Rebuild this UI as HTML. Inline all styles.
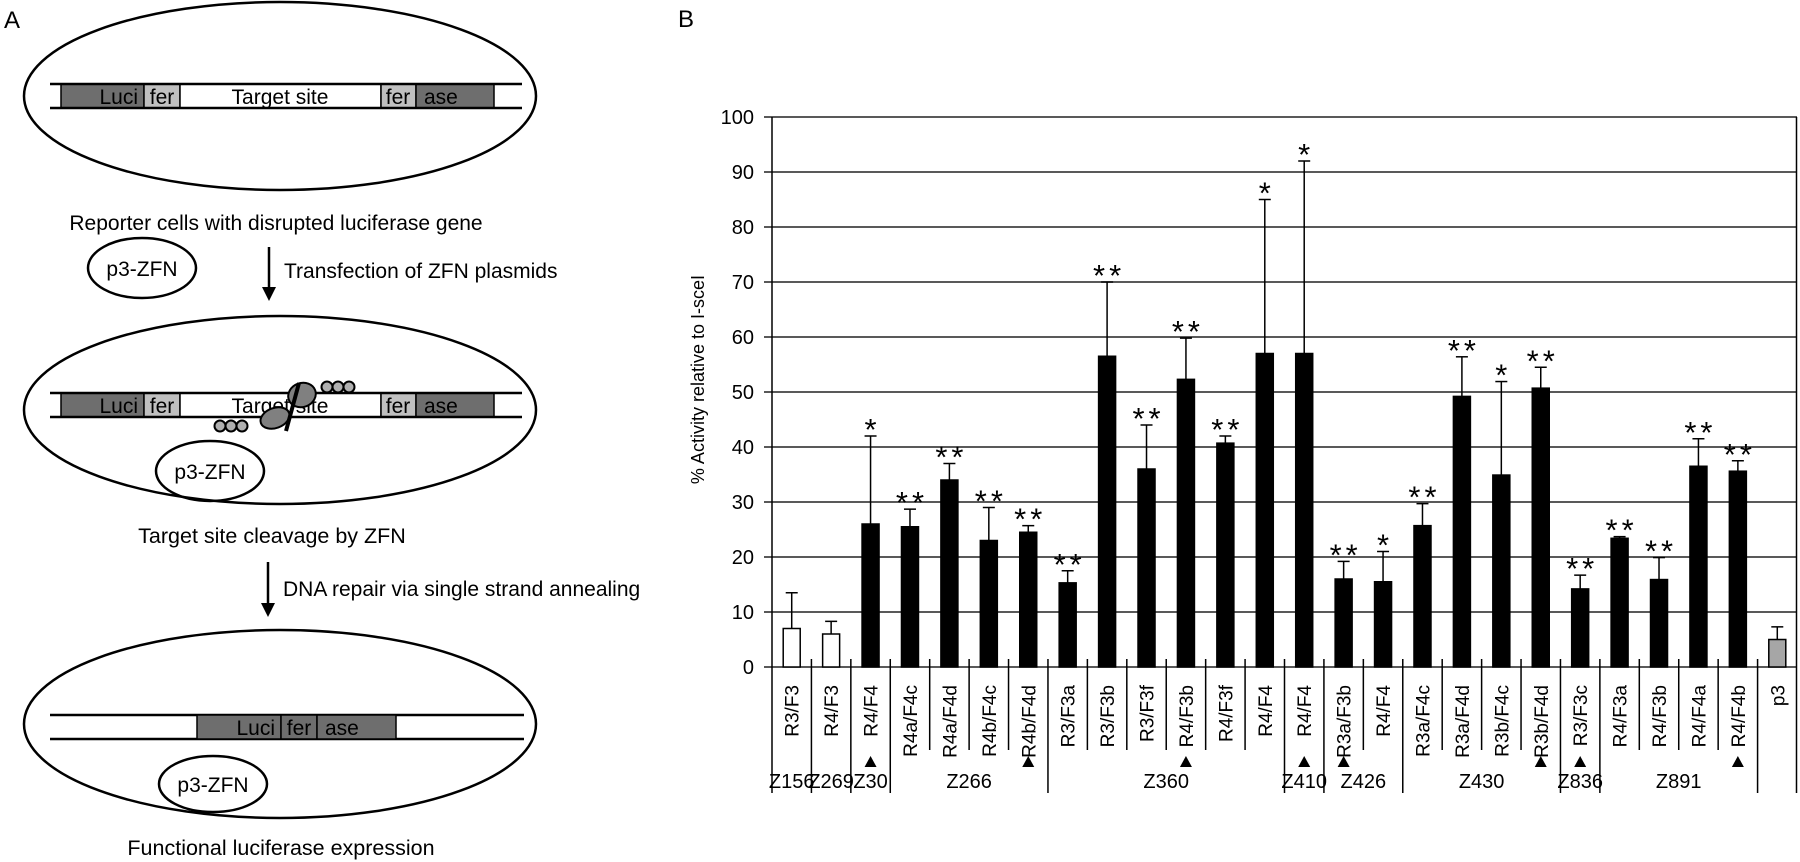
<!DOCTYPE html>
<html><head><meta charset="utf-8"><style>
html,body{margin:0;padding:0;background:#fff;}
svg{display:block;font-family:"Liberation Sans",Arial,sans-serif;}
</style></head><body>
<svg id="fig" width="1800" height="862" viewBox="0 0 1800 862" xmlns="http://www.w3.org/2000/svg">
<g id="panelA" stroke="#000" stroke-width="2.5">
  <text x="4" y="28" font-size="24" stroke="none">A</text>
  <ellipse cx="280" cy="96" rx="256" ry="94" fill="none"/>
  <g>
    <rect x="61" y="84" width="83" height="24" fill="#6e6e6e" stroke-width="1.5"/>
    <rect x="144" y="84" width="36" height="24" fill="#c0c0c0" stroke-width="1.5"/>
    <rect x="180" y="84" width="201" height="24" fill="#fff" stroke-width="1.5"/>
    <rect x="381" y="84" width="35" height="24" fill="#c0c0c0" stroke-width="1.5"/>
    <rect x="416" y="84" width="78" height="24" fill="#6e6e6e" stroke-width="1.5"/>
    <line x1="50" y1="84" x2="522" y2="84"/><line x1="50" y1="108" x2="522" y2="108"/>
    <g stroke="none" font-size="21">
      <text x="138" y="104" text-anchor="end">Luci</text>
      <text x="162" y="104" text-anchor="middle">fer</text>
      <text x="280" y="104" text-anchor="middle">Target site</text>
      <text x="398" y="104" text-anchor="middle">fer</text>
      <text x="424" y="104">ase</text>
    </g>
  </g>
  <text x="276" y="230" font-size="21" text-anchor="middle" stroke="none">Reporter cells with disrupted luciferase gene</text>
  <ellipse cx="142" cy="268" rx="54" ry="30" fill="none"/>
  <text x="142" y="276" font-size="21" text-anchor="middle" stroke="none">p3-ZFN</text>
  <line x1="269" y1="247" x2="269" y2="290"/>
  <polygon points="262,287 276,287 269,301" fill="#000" stroke="none"/>
  <text x="284" y="278" font-size="21" stroke="none">Transfection of ZFN plasmids</text>
  <ellipse cx="280" cy="410" rx="256" ry="94" fill="none"/>
  <g>
    <rect x="61" y="393" width="83" height="24" fill="#6e6e6e" stroke-width="1.5"/>
    <rect x="144" y="393" width="36" height="24" fill="#c0c0c0" stroke-width="1.5"/>
    <rect x="180" y="393" width="201" height="24" fill="#fff" stroke-width="1.5"/>
    <rect x="381" y="393" width="35" height="24" fill="#c0c0c0" stroke-width="1.5"/>
    <rect x="416" y="393" width="78" height="24" fill="#6e6e6e" stroke-width="1.5"/>
    <line x1="50" y1="393" x2="522" y2="393"/><line x1="50" y1="417" x2="522" y2="417"/>
    <g stroke="none" font-size="21">
      <text x="138" y="413" text-anchor="end">Luci</text>
      <text x="162" y="413" text-anchor="middle">fer</text>
      <text x="280" y="413" text-anchor="middle">Target site</text>
      <text x="398" y="413" text-anchor="middle">fer</text>
      <text x="424" y="413">ase</text>
    </g>
  </g>
  <g stroke-width="2">
    <circle cx="327" cy="387" r="5.5" fill="#b0b0b0"/><circle cx="338" cy="387" r="5.5" fill="#b0b0b0"/><circle cx="349" cy="387" r="5.5" fill="#b0b0b0"/>
    <ellipse cx="302" cy="395" rx="14" ry="12" fill="#808080" transform="rotate(-20 302 395)"/>
    <circle cx="220" cy="426" r="5.5" fill="#b0b0b0"/><circle cx="231" cy="426" r="5.5" fill="#b0b0b0"/><circle cx="242" cy="426" r="5.5" fill="#b0b0b0"/>
    <ellipse cx="275" cy="418" rx="15" ry="10" fill="#808080" transform="rotate(-20 275 418)"/>
    <line x1="299" y1="383" x2="286" y2="431" stroke-width="4"/>
  </g>
  <ellipse cx="210" cy="471" rx="54" ry="30" fill="none"/>
  <text x="210" y="479" font-size="21" text-anchor="middle" stroke="none">p3-ZFN</text>
  <text x="272" y="543" font-size="21.5" text-anchor="middle" stroke="none">Target site cleavage by ZFN</text>
  <line x1="268" y1="562" x2="268" y2="606"/>
  <polygon points="261,603 275,603 268,617" fill="#000" stroke="none"/>
  <text x="283" y="596" font-size="21" stroke="none">DNA repair via single strand annealing</text>
  <ellipse cx="280" cy="724" rx="256" ry="94" fill="none"/>
  <g>
    <line x1="50" y1="715" x2="524" y2="715"/><line x1="50" y1="739" x2="524" y2="739"/>
    <rect x="197" y="715" width="84" height="24" fill="#6e6e6e" stroke-width="1.5"/>
    <rect x="281" y="715" width="36" height="24" fill="#6e6e6e" stroke-width="1.5"/>
    <rect x="317" y="715" width="79" height="24" fill="#6e6e6e" stroke-width="1.5"/>
    <g stroke="none" font-size="21">
      <text x="275" y="735" text-anchor="end">Luci</text>
      <text x="299" y="735" text-anchor="middle">fer</text>
      <text x="325" y="735">ase</text>
    </g>
  </g>
  <ellipse cx="213" cy="784" rx="54" ry="28" fill="none"/>
  <text x="213" y="792" font-size="21" text-anchor="middle" stroke="none">p3-ZFN</text>
  <text x="281" y="855" font-size="21.5" text-anchor="middle" stroke="none">Functional luciferase expression</text>
</g>
<g id="panelB"></g>
</svg>
<script>
const categories = ["R3/F3","R4/F3","R4/F4","R4a/F4c","R4a/F4d","R4b/F4c","R4b/F4d","R3/F3a","R3/F3b","R3/F3f","R4/F3b","R4/F3f","R4/F4","R4/F4","R3a/F3b","R4/F4","R3a/F4c","R3a/F4d","R3b/F4c","R3b/F4d","R3/F3c","R4/F3a","R4/F3b","R4/F4a","R4/F4b","p3"];
const values = [7,6,26,25.5,34,23,24.5,15.3,56.5,36,52.3,40.7,57,57,16,15.5,25.7,49.2,34.9,50.7,14.2,23.4,15.9,36.5,35.6,5];
const errorTops = [13.5,8.3,42,28.7,37,29,25.7,17.5,70,44,59.8,42,85,92,19.2,21,29.7,56.4,51.9,54.5,16.7,23.7,19.9,41.5,37.5,7.3];
const significance = ["","","*","**","**","**","**","**","**","**","**","**","*","*","**","*","**","**","*","**","**","**","**","**","**",""];
const barKinds = ["control","control","zfn","zfn","zfn","zfn","zfn","zfn","zfn","zfn","zfn","zfn","zfn","zfn","zfn","zfn","zfn","zfn","zfn","zfn","zfn","zfn","zfn","zfn","zfn","empty"];
const markedIdx = [2,6,10,13,14,19,20,24];
const groupNames = ["Z156","Z269","Z30","Z266","Z360","Z410","Z426","Z430","Z836","Z891",""];
const groupStarts = [0,1,2,3,7,13,14,16,20,21,25];
const yTicks = [0,10,20,30,40,50,60,70,80,90,100];

const NS="http://www.w3.org/2000/svg";
const g=document.getElementById('panelB');
const X0=772,X1=1797,Y0=667,Y100=117;
const cw=(X1-X0)/categories.length;
const xc=i=>X0+cw*(i+0.5);
const xb=i=>X0+cw*i;
const y=v=>Y0-(v/100)*(Y0-Y100);
function mk(tag,attrs,parent){const e=document.createElementNS(NS,tag);for(const k in attrs)e.setAttribute(k,attrs[k]);(parent||g).appendChild(e);return e;}

let t=mk('text',{x:678,y:27,'font-size':24});t.textContent='B';



yTicks.forEach(v=>{
  const l=mk('line',{x1:X0-8,x2:X1,y1:y(v),y2:y(v),stroke:'#222','stroke-width':1.5});
  
  
  const tx=mk('text',{x:754,y:y(v)+7,'font-size':20,'text-anchor':'end'});
  tx.textContent=v;
  
  
});
const ax=mk('line',{x1:X0,x2:X0,y1:Y100,y2:793,stroke:'#000','stroke-width':1.5});


const rb=mk('line',{x1:X1-0.5,x2:X1-0.5,y1:Y100,y2:793,stroke:'#000','stroke-width':1.5});



const yt=mk('text',{x:0,y:0,'font-size':18,'text-anchor':'end',transform:'translate(704,275) rotate(-90)'});
yt.textContent='% Activity relative to I-sceI';



for(let i=1;i<categories.length;i++){
  const isGroup=groupStarts.includes(i);
  const s=mk('line',{x1:xb(i),x2:xb(i),y1:Y0-8,y2:isGroup?793:750,stroke:'#000','stroke-width':1.5});
  
  
}

categories.forEach((c,i)=>{
  const bw=17;
  const fill=barKinds[i]==='control'?'#fff':(barKinds[i]==='empty'?'#a6a6a6':'#000');
  const el=mk('line',{x1:xc(i),x2:xc(i),y1:y(values[i]),y2:y(errorTops[i]),stroke:'#000','stroke-width':1.5});
  
  
  const cap=mk('line',{x1:xc(i)-6,x2:xc(i)+6,y1:y(errorTops[i]),y2:y(errorTops[i]),stroke:'#000','stroke-width':1.5});
  
  
  const b=mk('rect',{x:xc(i)-bw/2,y:y(values[i]),width:bw,height:Y0-y(values[i]),fill:fill,stroke:'#000','stroke-width':1.5});
  
  
  if(significance[i]){
    const st=mk('text',{x:xc(i)+2,y:y(errorTops[i])+4,'font-size':31,'text-anchor':'middle','letter-spacing':'4'});
    st.textContent=significance[i];
    
    
  }
  const lb=mk('text',{x:0,y:0,'font-size':19,'text-anchor':'end',transform:`translate(${xc(i)+7},685) rotate(-90)`});
  lb.textContent=c;
  
  
});

markedIdx.forEach(i=>{
  const p=mk('polygon',{points:`${xc(i)-6},767 ${xc(i)+6},767 ${xc(i)},756`,fill:'#000'});
  
  
});

groupNames.forEach((n,k)=>{
  if(!n)return;
  const s=groupStarts[k],e=groupStarts[k+1];
  const gx=(xb(s)+xb(e))/2;
  const tx=mk('text',{x:gx,y:788,'font-size':20,'text-anchor':'middle'});
  tx.textContent=n;
  
  
});
</script>
</body></html>
